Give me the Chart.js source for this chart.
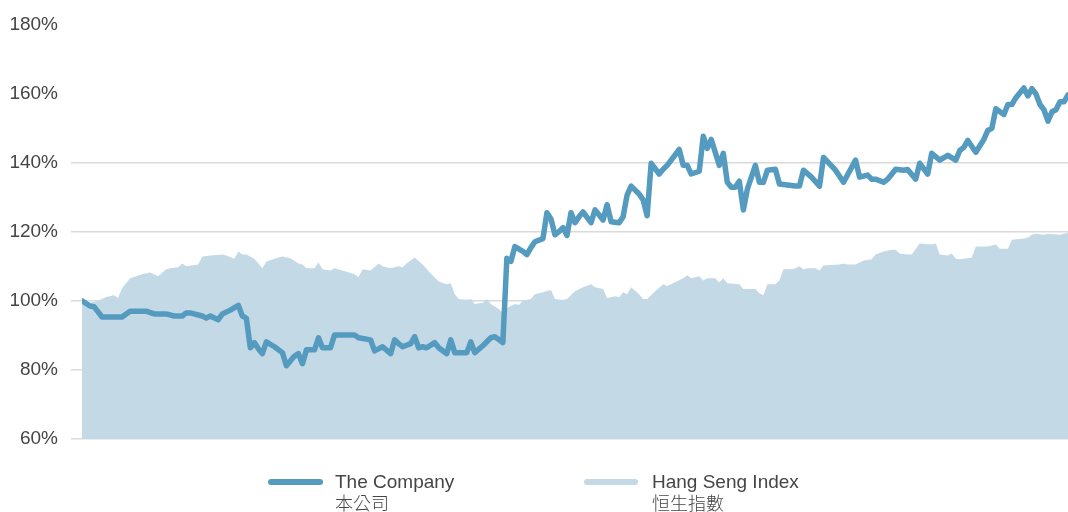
<!DOCTYPE html>
<html>
<head>
<meta charset="utf-8">
<script src="https://cdn.jsdelivr.net/npm/chart.js@4.4.1/dist/chart.umd.min.js"></script>
<style>
  html, body { margin: 0; padding: 0; background: #ffffff; }
  #wrap { position: relative; width: 1068px; height: 512px; overflow: hidden; }
  #c { position: absolute; left: 0; top: 0; }
  .lg { position: absolute; top: 472px; font-family: "Liberation Sans", Arial, "Noto Sans CJK TC", sans-serif; font-size: 19px; color: #454545; }
  .lg .sw { position: absolute; top: 7px; height: 6px; border-radius: 3px; }
  .lg .tx { position: absolute; white-space: nowrap; }
  .lg .tx div { height: 20px; line-height: 20px; }
  .lg .tx .zh { font-family: "Noto Sans CJK TC", sans-serif; font-size: 18px; font-weight: 300; }
</style>
</head>
<body>
<div id="wrap">
  <canvas id="c" width="1068" height="512"></canvas>
  <div class="lg" style="left:268px;">
    <div class="sw" style="left:0; width:55px; background:#549bbf;"></div>
    <div class="tx" style="left:67px;"><div>The Company</div><div class="zh">本公司</div></div>
  </div>
  <div class="lg" style="left:584px;">
    <div class="sw" style="left:0; width:54px; background:#c4d9e6;"></div>
    <div class="tx" style="left:68px;"><div>Hang Seng Index</div><div class="zh">恒生指數</div></div>
  </div>
</div>
<script>
// Trading-day index (0 = start) and value (% of start) for each series
const companyDays = [0,2,3,5,10,12,16,18,21,23,25,26,27,30,31,32,34,35,37,39,40,41,42,43,44,45,46,48,50,51,53,54,55,56,58,59,60,62,63,68,69,72,73,75,77,78,79,80,82,83,84,85,86,88,89,91,92,93,96,97,98,100,102,103,104,105,106,107,108,110,111,112,113,115,116,117,118,119,120,121,122,123,124,125,127,128,129,130,131,132,134,135,136,137,139,140,141,142,144,145,146,149,150,151,152,154,155,156,157,159,160,161,162,163,164,165,166,168,169,170,171,173,174,176,178,179,180,182,184,185,188,190,193,194,196,197,198,200,201,203,205,206,208,209,211,212,214,216,218,219,220,221,223,225,226,227,228,230,231,232,233,235,236,237,238,239,240,241,242,243,244,245,246];
const companyValues = [100,98.5,98.3,95.3,95.3,97,97,96.2,96.2,95.6,95.6,96.5,96.5,95.6,95,95.6,94.5,96.2,97.3,98.7,95.6,95,86.4,87.9,86.1,84.7,88.1,86.7,85,81.2,84,84.7,81.8,85.8,85.8,89.3,86.4,86.4,90.1,90.1,89.3,88.7,85.5,86.7,84.7,88.7,87.6,86.7,87.6,89.6,86.4,86.7,86.4,87.9,86.4,84.7,88.7,85,85,88.1,85,87,89.3,89.6,88.8,87.9,112.3,111.4,115.7,114.3,113.4,115.4,117.1,118,125.5,123.7,119.1,120,121.2,118.9,125.5,122.6,124.3,125.7,122.6,126.3,124.9,123.4,127.8,122.9,122.6,124.3,130.6,133.2,130.9,129.2,124.6,139.8,136.7,138.1,139.2,143.8,139.2,139.2,136.7,137.5,147.6,144.1,146.7,139.2,142.7,134.3,132.9,132.9,134.6,126.3,132.3,139.2,134.3,134.3,137.8,138.1,133.8,133.5,133.2,133.2,137.8,135.8,133.2,141.5,137.8,134.3,140.7,135.8,136.4,135.2,135.2,134.3,135.2,138.1,137.8,138,135.2,139.8,136.7,142.7,140.7,142.1,140.7,143.5,144.4,146.4,143,146.7,149.3,149.9,155.6,153.9,156.8,156.8,158.8,161.6,159.3,161.4,159.9,156.8,155.3,152,154.7,155.3,157.6,157.6,159.6];

const hsiDays = [0,2,4,6,8,9,10,12,15,17,19,21,22,24,25,26,29,30,32,35,36,38,39,40,41,43,45,46,49,50,52,54,55,56,58,59,60,62,63,65,68,69,70,72,74,75,77,79,80,81,83,85,87,89,91,92,93,94,96,97,98,100,101,102,104,105,106,108,109,110,112,113,115,117,118,120,121,123,125,127,128,130,131,133,134,135,136,137,139,140,141,143,145,146,147,150,151,152,154,155,156,158,159,160,161,164,165,168,169,170,171,173,174,175,177,178,179,180,181,183,184,185,189,190,191,193,195,197,198,200,202,203,204,206,207,209,212,213,214,216,217,218,219,222,223,226,228,229,231,232,235,236,237,238,240,241,244,246];
const hsiValues = [100,99.4,100,101.1,101.6,100.8,103.6,106.5,107.7,108.2,107.1,109.1,109.4,109.7,110.8,110,110.5,112.8,113.1,113.4,113.1,112.2,114.3,113.4,113.4,112.2,109.4,111.4,112.5,112.8,112.3,110.8,110.5,109.4,109.4,111.1,109.1,108.8,109.4,108.8,107.7,106.8,109.1,108.8,110.8,110,109.4,110,109.7,110.8,112.5,110.5,107.9,105.6,104.8,105.1,101.9,100.5,100.3,100.5,99.1,99.4,100.5,99.1,97.6,96.5,97.9,99.1,98.8,100,100.5,101.9,102.5,103.1,100.5,100.2,100.5,102.8,103.9,104.8,103.9,103.4,100.8,101.3,101,102.5,101.9,103.9,101.9,100.5,100.5,102.8,104.8,104.3,104.8,106.5,107.4,106.5,107.1,105.9,106.5,106.5,105.3,106.5,105.1,104.8,103.4,103.4,102.2,101.6,104.8,104.8,105.9,109.1,109.1,109.4,110,109.1,109.4,109.4,108.8,110.2,110.5,110.8,110.5,110.5,111.7,112,113.4,114.3,114.8,114.8,113.7,113.4,113.4,116.6,116.3,116.6,113.4,113.1,113.7,112.2,112,112.5,115.7,115.7,116.3,115.1,115.1,117.7,118,118.3,119.1,119.4,119.1,119.4,119.1,119.7];

const yTicks = [60, 80, 100, 120, 140, 160, 180];
const gridTicks = [60, 80, 100, 120, 140];

const toPoints = (days, vals) => days.map((d, i) => ({ x: d, y: vals[i] }));

new Chart(document.getElementById('c'), {
  type: 'line',
  data: {
    datasets: [
      {
        label: 'The Company',
        data: toPoints(companyDays, companyValues),
        borderColor: '#549bbf',
        borderWidth: 5.5,
        borderJoinStyle: 'round',
        borderCapStyle: 'round',
        pointRadius: 0,
        fill: false,
        tension: 0
      },
      {
        label: 'Hang Seng Index',
        data: toPoints(hsiDays, hsiValues),
        borderWidth: 0,
        borderColor: 'rgba(0,0,0,0)',
        backgroundColor: '#c4d9e6',
        pointRadius: 0,
        fill: 'start',
        tension: 0
      }
    ]
  },
  options: {
    responsive: false,
    devicePixelRatio: 1,
    animation: false,
    layout: { padding: { top: 21, bottom: 73, left: 0, right: 0 } },
    plugins: { legend: { display: false }, tooltip: { enabled: false } },
    scales: {
      x: {
        type: 'linear',
        min: 0,
        max: 246,
        display: false
      },
      y: {
        min: 60,
        max: 180,
        afterBuildTicks: (s) => { s.ticks = yTicks.map(v => ({ value: v })); },
        afterFit: (s) => { s.width = 82; },
        border: { display: false },
        grid: {
          color: (ctx) => gridTicks.includes(ctx.tick && ctx.tick.value) ? '#dadada' : 'rgba(0,0,0,0)',
          lineWidth: 1.5,
          drawTicks: true,
          tickLength: 11
        },
        ticks: {
          padding: 13,
          color: '#454545',
          font: { family: '"Liberation Sans", Arial, sans-serif', size: 19 },
          callback: (v) => v + '%'
        }
      }
    }
  }
});
</script>
</body>
</html>
